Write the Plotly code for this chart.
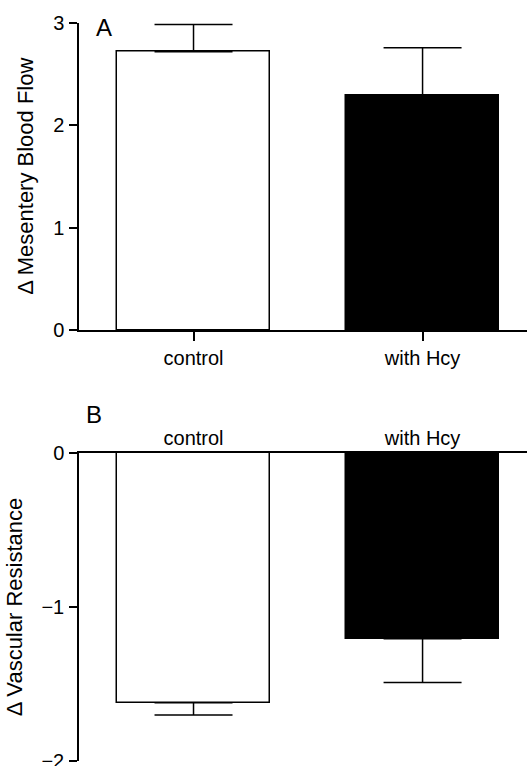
import plotly.graph_objects as go

categories = ["control", "with Hcy"]
flow_means = [2.715, 2.29]
flow_err = [0.265, 0.464]
resist_means = [-1.621, -1.206]
resist_err = [0.08, 0.285]
bar_colors = ["white", "black"]
flow_ticks = [0, 1, 2, 3]
resist_ticks = [-2, -1, 0]

FONT = "Arial, Liberation Sans, Helvetica, sans-serif"
W, H = 527, 766
L = 79
PW = W - L

fig = go.Figure()
fig.add_trace(go.Bar(
    x=[0, 1], y=flow_means, width=0.667,
    marker=dict(color=bar_colors, line=dict(color="black", width=1.5)),
    error_y=dict(type="data", symmetric=False, array=flow_err, arrayminus=[0, 0],
                 color="black", thickness=1.5, width=39),
    xaxis="x", yaxis="y", showlegend=False,
))
fig.add_trace(go.Bar(
    x=[0, 1], y=resist_means, width=0.667,
    marker=dict(color=bar_colors, line=dict(color="black", width=1.5)),
    error_y=dict(type="data", symmetric=False, array=[0, 0], arrayminus=resist_err,
                 color="black", thickness=1.5, width=39),
    xaxis="x2", yaxis="y2", showlegend=False,
))

xrange = [-0.5, 1.456]
axis_common = dict(showgrid=False, zeroline=False, showline=True, linecolor="black",
                   linewidth=1.5, automargin=False, ticklabeloverflow="allow",
                   tickfont=dict(family=FONT, size=20, color="black"))

fig.update_layout(
    width=W, height=H,
    margin=dict(l=L, r=0, t=0, b=0),
    paper_bgcolor="white", plot_bgcolor="white",
    font=dict(family=FONT, size=20, color="black"),
    bargap=0,
    xaxis=dict(domain=[0, 1], anchor="y", range=xrange, tickmode="array",
               tickvals=[0, 1], ticktext=categories, ticks="outside", ticklen=9,
               tickwidth=1.5, tickcolor="black", **axis_common),
    yaxis=dict(domain=[1 - 330 / H, 1 - 22.5 / H], anchor="x", range=[0, 3],
               tickvals=flow_ticks, ticks="outside", ticklen=8, tickwidth=1.5,
               tickcolor="black", ticklabelstandoff=1,
               title=dict(text="Δ Mesentery Blood Flow", font=dict(family=FONT, size=22),
                          standoff=13),
               **axis_common),
    xaxis2=dict(domain=[0, 1], anchor="y2", side="top", range=xrange, tickmode="array",
                tickvals=[0, 1], ticktext=categories, ticks="", ticklabelstandoff=-2,
                **axis_common),
    yaxis2=dict(domain=[1 - 761 / H, 1 - 453 / H], anchor="x2", range=[-2, 0],
                tickvals=resist_ticks, ticks="outside", ticklen=8, tickwidth=1.5,
                tickcolor="black", ticklabelstandoff=1,
                title=dict(text="Δ Vascular Resistance", font=dict(family=FONT, size=22),
                           standoff=13),
                **axis_common),
    annotations=[
        dict(text="A", x=(94 - L) / PW, y=1 - 27 / H, xref="paper", yref="paper",
             xanchor="left", yanchor="middle", showarrow=False,
             font=dict(family=FONT, size=24, color="black")),
        dict(text="B", x=(84 - L) / PW, y=1 - 414 / H, xref="paper", yref="paper",
             xanchor="left", yanchor="middle", showarrow=False,
             font=dict(family=FONT, size=24, color="black")),
    ],
)

fig.write_html("out.html")
